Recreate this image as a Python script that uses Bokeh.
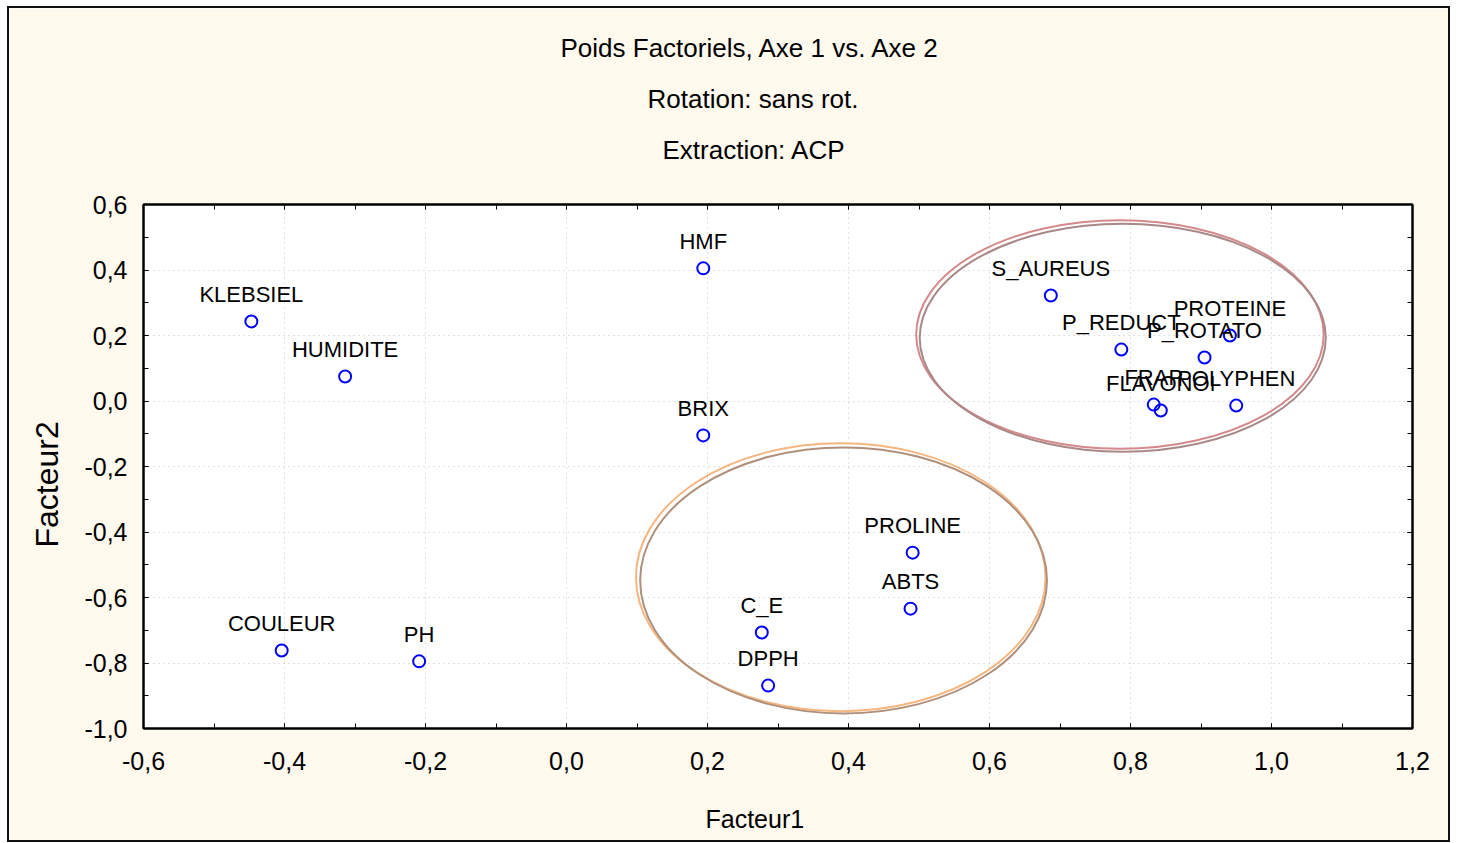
from bokeh.plotting import figure
from bokeh.models import (ColumnDataSource, Range1d, LinearAxis, Title, FixedTicker,
                          CustomJSTickFormatter)
from bokeh.core.properties import value
from bokeh.embed import file_html
from bokeh.resources import INLINE

# ---- data ----
names = ["KLEBSIEL", "HUMIDITE", "HMF", "BRIX", "S_AUREUS", "P_REDUCT", "PROTEINE",
         "P_ROTATO", "FRAP", "FLAVONOI", "POLYPHEN", "PROLINE", "ABTS", "C_E", "DPPH",
         "COULEUR", "PH"]
facteur1 = [-0.447, -0.314, 0.194, 0.194, 0.687, 0.787, 0.941,
            0.905, 0.833, 0.843, 0.950, 0.491, 0.488, 0.277, 0.286,
            -0.404, -0.209]
facteur2 = [0.243, 0.075, 0.405, -0.105, 0.322, 0.157, 0.200,
            0.133, -0.011, -0.029, -0.014, -0.463, -0.634, -0.707, -0.869,
            -0.762, -0.795]

x_ticks = [-0.6, -0.4, -0.2, 0.0, 0.2, 0.4, 0.6, 0.8, 1.0, 1.2]
x_minor = [-0.6, -0.5, -0.4, -0.3, -0.2, -0.1, 0.0, 0.1, 0.2, 0.3, 0.4, 0.5, 0.6,
           0.7, 0.8, 0.9, 1.0, 1.1, 1.2]
y_ticks = [-1.0, -0.8, -0.6, -0.4, -0.2, 0.0, 0.2, 0.4, 0.6]
y_minor = [-1.0, -0.9, -0.8, -0.7, -0.6, -0.5, -0.4, -0.3, -0.2, -0.1, 0.0, 0.1,
           0.2, 0.3, 0.4, 0.5, 0.6]

title_lines = ["Poids Factoriels, Axe 1 vs. Axe 2", "Rotation: sans rot.", "Extraction: ACP"]
x_label = "Facteur1"
y_label = "Facteur2"

FONT = "Liberation Sans"
BG = "#FFF9EE"

src = ColumnDataSource(dict(x=facteur1, y=facteur2, name=names))

p = figure(width=1443, height=836, output_backend="svg", toolbar_location=None,
           title=None,
           x_range=Range1d(-0.6, 1.2), y_range=Range1d(-1.0, 0.6),
           background_fill_color="white", border_fill_color=BG,
           min_border_left=134, min_border_right=40, min_border_top=0,
           min_border_bottom=0)
p.styles = {"border": "2px solid #111111", "margin-left": "7px", "margin-top": "6px",
            "box-sizing": "border-box"}

p.outline_line_color = "black"
p.outline_line_width = 2

fmt = CustomJSTickFormatter(code="""
    if (Math.abs(tick) < 1e-9) { return "0,0"; }
    return tick.toFixed(1).replace('.', ',');
""")

def style_axis(ax, ticks, minor, labels=True):
    ax.ticker = FixedTicker(ticks=ticks, minor_ticks=minor)
    ax.axis_line_color = "black"
    ax.axis_line_width = 2
    ax.major_tick_in = 5
    ax.major_tick_out = 0
    ax.minor_tick_in = 5
    ax.minor_tick_out = 0
    ax.major_tick_line_color = "black"
    ax.minor_tick_line_color = "black"
    ax.major_tick_line_width = 1
    ax.minor_tick_line_width = 1
    if labels:
        ax.formatter = fmt
        ax.major_label_text_font = FONT
        ax.major_label_text_font_size = "25px"
        ax.major_label_text_color = "black"
    else:
        ax.major_label_text_font_size = "0px"
        ax.major_label_standoff = 0

style_axis(p.xaxis[0], x_ticks, x_minor)
style_axis(p.yaxis[0], y_ticks, y_minor)
p.xaxis[0].major_label_standoff = 23
p.yaxis[0].major_label_standoff = 16

top_ax = LinearAxis()
right_ax = LinearAxis()
style_axis(top_ax, x_ticks, x_minor, labels=False)
style_axis(right_ax, y_ticks, y_minor, labels=False)
p.add_layout(top_ax, "above")
p.add_layout(right_ax, "right")

p.xgrid[0].ticker = FixedTicker(ticks=x_ticks)
p.ygrid[0].ticker = FixedTicker(ticks=y_ticks)
for g in (p.xgrid[0], p.ygrid[0]):
    g.grid_line_color = "#c4c4c4"
    g.grid_line_dash = "1 4"
    g.grid_line_width = 1


def spacer(size):
    return Title(text=" ", text_font_size="1px", standoff=size,
                 background_fill_color=None, border_line_color=None)

# above panel: first added is nearest the frame
p.add_layout(spacer(27), "above")
title_offsets = [417, 504, 519]
for txt, off in reversed(list(zip(title_lines, title_offsets))):
    t = Title(text=txt, align="left", offset=off, text_font=FONT,
              text_font_size="26px", text_font_style="normal", text_color="black",
              standoff=19)
    p.add_layout(t, "above")
p.add_layout(spacer(10), "above")

# below panel
p.add_layout(spacer(15), "below")
p.add_layout(Title(text=x_label, align="left", offset=562,
                   text_font=FONT, text_font_size="25px",
                   text_font_style="normal", text_color="black", standoff=24), "below")

# left panel
p.add_layout(Title(text=y_label, align="left", offset=181, text_font=FONT,
                   text_font_size="32px", text_font_style="normal", text_color="black",
                   standoff=33), "left")

# group ellipses (annotations drawn by hand in the original)
p.ellipse(x=[0.785], y=[0.203], width=0.578, height=0.698,
          fill_color=None, line_color="#D4898B", line_width=2)
p.ellipse(x=[0.789], y=[0.193], width=0.576, height=0.696,
          fill_color=None, line_color="#A98888", line_width=2)
p.ellipse(x=[0.389], y=[-0.538], width=0.581, height=0.818,
          fill_color=None, line_color="#F5B680", line_width=2)
p.ellipse(x=[0.393], y=[-0.548], width=0.577, height=0.812,
          fill_color=None, line_color="#B0907C", line_width=2)

p.scatter("x", "y", source=src, marker="circle", size=12, fill_color=None,
          line_color="#0000FF", line_width=2)
p.text("x", "y", text="name", source=src, text_align="center", text_baseline="alphabetic",
       y_offset=-27, text_font=value(FONT), text_font_size="22px", text_color="black")

open("out.html", "w").write(file_html(p, INLINE))
